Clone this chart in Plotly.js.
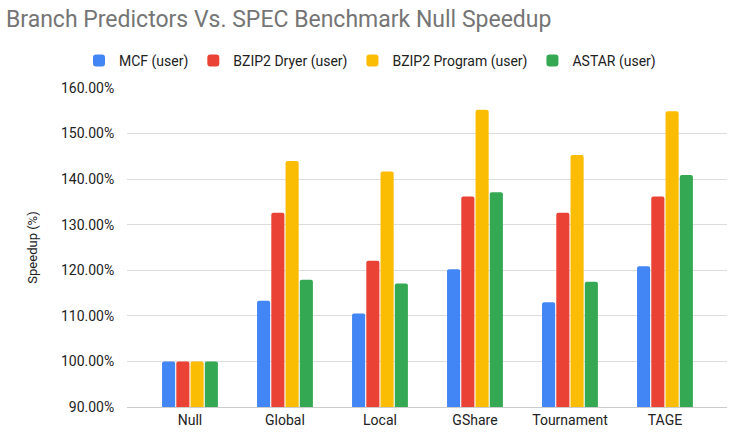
<!DOCTYPE html>
<html>
<head>
<script src="https://cdn.plot.ly/plotly-3.0.1.min.js"></script>
<style>body{margin:0;background:#fff}</style>
</head>
<body>
<div id="chart" style="width:746px;height:448px"></div>
<script>
const categories = ['Null', 'Global', 'Local', 'GShare', 'Tournament', 'TAGE'];
const seriesNames = ['MCF (user)', 'BZIP2 Dryer (user)', 'BZIP2 Program (user)', 'ASTAR (user)'];
const mcf = [1.00, 1.133, 1.105, 1.202, 1.130, 1.209];
const bzip2Dryer = [1.00, 1.326, 1.221, 1.362, 1.326, 1.362];
const bzip2Program = [1.00, 1.440, 1.417, 1.552, 1.453, 1.549];
const astar = [1.00, 1.179, 1.171, 1.371, 1.175, 1.409];
const colors = ['#4285f4', '#ea4335', '#fbbc04', '#34a853'];

const values = [mcf, bzip2Dryer, bzip2Program, astar];
const data = values.map((v, i) => ({
    x: categories,
    y: v,
    type: 'bar',
    name: seriesNames[i],
    marker: {color: colors[i], cornerradius: 2},
}));

Plotly.newPlot('chart', data, {
    width: 746,
    height: 448,
    margin: {l: 127, r: 19, t: 88, b: 41},
    font: {family: 'Roboto, Arial, sans-serif', color: '#222'},
    title: {text: 'Branch Predictors Vs. SPEC Benchmark Null Speedup', x: 0.008, xanchor: 'left', y: 0.975, yanchor: 'top',
        font: {size: 23, color: '#757575'}},
    showlegend: true,
    legend: {orientation: 'h', x: 0.405, xanchor: 'center', y: 1.035, yanchor: 'bottom', font: {size: 14, color: '#222'},
        traceorder: 'normal'},
    bargap: 0.4,
    bargroupgap: 0.08,
    xaxis: {tickfont: {size: 14, color: '#222'}, showline: true, linecolor: '#ccc', range: [-0.663, 5.653]},
    yaxis: {
        title: {text: 'Speedup (%)', font: {size: 13, color: '#222'}, standoff: 20},
        range: [0.9, 1.6], dtick: 0.1, tickformat: '.2%',
        ticks: 'outside', ticklen: 9, tickcolor: 'rgba(0,0,0,0)',
        tickfont: {size: 14, color: '#222'}, gridcolor: '#ddd', zeroline: false,
    },
    plot_bgcolor: '#fff',
    paper_bgcolor: '#fff',
}, {displayModeBar: false});
</script>
</body>
</html>
